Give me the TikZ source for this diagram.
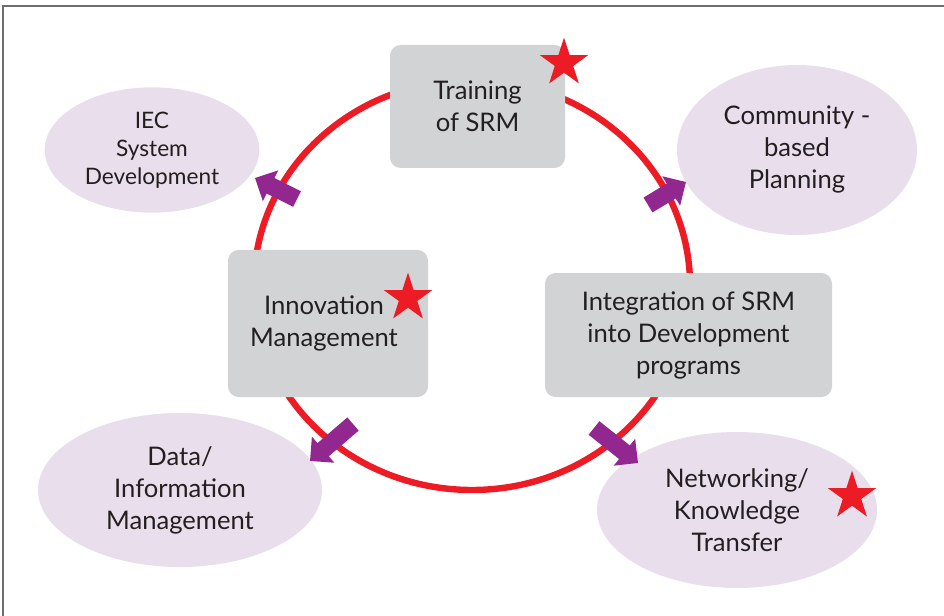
\documentclass[tikz,border=0pt]{standalone}
\usepackage{fontspec}
\setmainfont{Lato}
\usetikzlibrary{shapes.geometric,arrows.meta}
\definecolor{srmred}{HTML}{ED1C24}
\definecolor{srmpurple}{HTML}{92278F}
\definecolor{boxgray}{HTML}{D1D3D4}
\definecolor{ovallilac}{HTML}{E9DFEC}
\definecolor{inkgray}{HTML}{231F20}
\definecolor{framegray}{HTML}{6D6E71}
\begin{document}
\begin{tikzpicture}[x=0.75pt,y=-0.75pt,
  every node/.style={text=inkgray, align=center},
  graybox/.style={fill=boxgray, draw=none, rounded corners=8pt, inner sep=0pt,
     font=\fontsize{19.2}{24}\selectfont},
  lilac/.style={ellipse, fill=ovallilac, draw=none, inner sep=0pt,
     font=\fontsize{19.2}{24}\selectfont},
  redstar/.style={star, star points=5, star point ratio=2.618, fill=srmred, draw=none,
     minimum size=38pt, inner sep=0pt},
  ring/.style={draw=srmred, line width=4.8pt},
  blockarrow/.style={draw=srmpurple, line width=13pt, line cap=butt,
     -{Triangle[width=25pt,length=13pt]}},
  frame/.style={draw=framegray, line width=1.5pt}
]
\useasboundingbox (0,0) rectangle (944,616);
\draw[frame] (3,616) -- (3,6) -- (944,6);

% outer ellipses
\node[lilac, minimum width=161pt, minimum height=94pt,
      font=\fontsize{17}{21}\selectfont] (iec) at (152,150) {IEC\\System\\Development};
\node[lilac, minimum width=180pt, minimum height=127.5pt] (cbp) at (797,150) {Community -\\based\\Planning};
\node[lilac, minimum width=213pt, minimum height=115.5pt] (dim) at (180,490) {Data/\\Information\\Management};
\node[lilac, minimum width=210pt, minimum height=117pt] (nkt) at (737,510) {Networking/\\Knowledge\\Transfer};

% red cycle
\draw[ring] (472,285) ellipse [x radius=218, y radius=205];

% gray boxes
\node[graybox, minimum width=131.25pt, minimum height=92.25pt] (train) at (477.5,106.5) {Training\\of SRM};
\node[graybox, minimum width=150pt, minimum height=110.25pt] (innov) at (328,323.5) {\hspace*{-6pt}Innovation\\\hspace*{-6pt}Management};
\node[graybox, minimum width=215.25pt, minimum height=93pt] (integ) at (688.5,335) {Integration of SRM\\into Development\\programs};

% purple arrows
\coordinate (a1s) at (297,199); \coordinate (a1e) at (255,178);
\coordinate (a2s) at (648,205); \coordinate (a2e) at (686,182);
\coordinate (a3s) at (353,424); \coordinate (a3e) at (310,461);
\coordinate (a4s) at (594,428); \coordinate (a4e) at (638,463);
\draw[blockarrow] (a1s) -- (a1e);
\draw[blockarrow] (a2s) -- (a2e);
\draw[blockarrow] (a3s) -- (a3e);
\draw[blockarrow] (a4s) -- (a4e);

% stars
\node[redstar] (s1) at (564,63) {};
\node[redstar] (s2) at (408,298) {};
\node[redstar] (s3) at (852,496) {};
\end{tikzpicture}
\end{document}
